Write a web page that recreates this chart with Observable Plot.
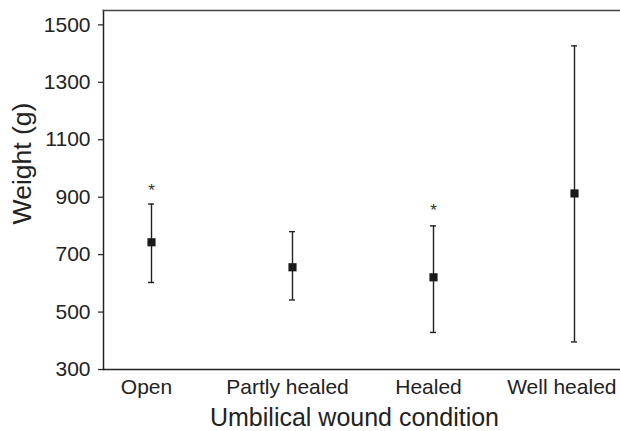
<!DOCTYPE html>
<html>
<head>
<meta charset="utf-8">
<script src="https://cdn.jsdelivr.net/npm/d3@7"></script>
<script src="https://cdn.jsdelivr.net/npm/@observablehq/plot@0.6"></script>
<style>
  html, body { margin: 0; padding: 0; background: #fff; }
  #chart { width: 620px; height: 431px; overflow: hidden; }
</style>
</head>
<body>
<div id="chart"></div>
<script>
const categories = ["Open", "Partly healed", "Healed", "Well healed"];
const means = [743, 656, 621, 913];
const upper = [876, 780, 800, 1427];
const lower = [603, 542, 429, 396];
const starCategories = ["Open", "Healed"];
const starValues = [937, 866];
const yTicks = [300, 500, 700, 900, 1100, 1300, 1500];
const yTitle = "Weight (g)";
const xTitle = "Umbilical wound condition";

const rows = categories.map((c, i) => ({cat: c, mean: means[i], lo: lower[i], hi: upper[i]}));
const stars = starCategories.map((c, i) => ({cat: c, v: starValues[i]}));

const ink = "#222";
const plot = Plot.plot({
  width: 620,
  height: 431,
  marginLeft: 103,
  marginRight: 0,
  marginTop: 10,
  marginBottom: 62,
  style: {fontFamily: "'Liberation Sans', Arial, sans-serif", color: ink, background: "#fff"},
  x: {type: "band", domain: categories, range: [147, 578], paddingInner: 0.9576, paddingOuter: 0, axis: null},
  y: {domain: [300, 1550], axis: null},
  marks: [
    Plot.frame({anchor: "left", stroke: ink, strokeWidth: 1.5}),
    Plot.frame({anchor: "bottom", stroke: ink, strokeWidth: 1.5}),
    Plot.frame({anchor: "top", stroke: "#444", strokeWidth: 1.6}),
    Plot.axisY(yTicks, {tickSize: 5, tickPadding: 8, fontSize: 21, label: null, tickFormat: d => String(d), stroke: ink, strokeWidth: 1.2}),
    Plot.axisX(categories.slice(0, 3), {tickSize: 0, tickPadding: 10, fontSize: 21, label: null, dx: -5}),
    Plot.axisX(categories.slice(3), {tickSize: 0, tickPadding: 10, fontSize: 21, label: null, textAnchor: "end", dx: 42}),
    Plot.ruleX(rows, {x: "cat", y1: "lo", y2: "hi", stroke: ink, strokeWidth: 1.4}),
    Plot.tickY(rows, {x: "cat", y: "hi", stroke: ink, strokeWidth: 1.4}),
    Plot.tickY(rows, {x: "cat", y: "lo", stroke: ink, strokeWidth: 1.4}),
    Plot.dot(rows, {x: "cat", y: "mean", symbol: "square", r: 4.6, fill: "#1a1a1a", stroke: "none"}),
    Plot.text(stars, {x: "cat", y: "v", text: () => "*", fontSize: 17, fill: "#333", dy: 4}),
    Plot.text([yTitle], {text: d => d, frameAnchor: "left", textAnchor: "middle", lineAnchor: "middle", rotate: -90, fontSize: 26.5, dx: -81, dy: -26.5, fill: ink}),
    Plot.text([xTitle], {text: d => d, frameAnchor: "bottom", textAnchor: "middle", lineAnchor: "middle", fontSize: 25, dx: -7.5, dy: 48, fill: ink})
  ]
});
document.getElementById("chart").appendChild(plot);
</script>
</body>
</html>
